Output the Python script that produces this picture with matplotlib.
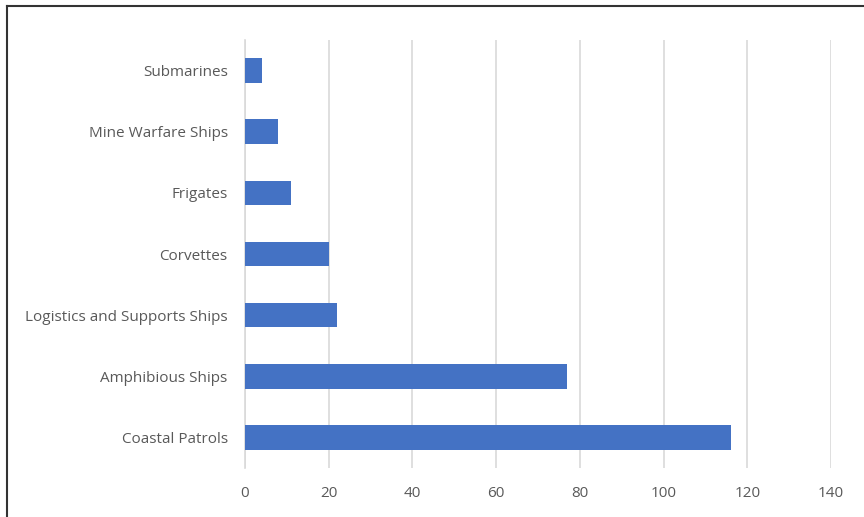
import matplotlib
matplotlib.use("Agg")
import matplotlib.pyplot as plt
from matplotlib.lines import Line2D

categories = ["Coastal Patrols", "Amphibious Ships", "Logistics and Supports Ships",
              "Corvettes", "Frigates", "Mine Warfare Ships", "Submarines"]
values = [116, 77, 22, 20, 11, 8, 4]
xticks = [0, 20, 40, 60, 80, 100, 120, 140]

plt.rcParams['font.family'] = ['Open Sans', 'DejaVu Sans']

fig = plt.figure(figsize=(8.64, 5.17), dpi=100)
ax = fig.add_axes([245/864, 1-468/517, (831-245)/864, (468-40)/517])

ax.barh(range(len(categories)), values, height=0.4, color="#4472c4", zorder=3)
ax.set_ylim(-0.5, len(categories) - 0.5)
ax.set_xlim(0, 140)
ax.set_xticks(xticks)
ax.set_yticks(range(len(categories)))
ax.set_yticklabels(categories)
ax.grid(axis="x", color="#d9d9d9", linewidth=1.2, zorder=0)
ax.tick_params(length=0, labelsize=11, labelcolor="#595959")
ax.tick_params(axis="x", pad=13)
ax.tick_params(axis="y", pad=12.5)
for s in ["top", "right", "bottom"]:
    ax.spines[s].set_visible(False)
ax.spines["left"].set_color("#d9d9d9")
ax.spines["left"].set_linewidth(1.2)

# Outer frame lines (top and left)
fig.add_artist(Line2D([7/864, 1], [1-6/517, 1-6/517], color="#333333", linewidth=1.5,
                      transform=fig.transFigure))
fig.add_artist(Line2D([7/864, 7/864], [0, 1-6/517], color="#333333", linewidth=1.5,
                      transform=fig.transFigure))

fig.savefig("out.png", dpi=100)
